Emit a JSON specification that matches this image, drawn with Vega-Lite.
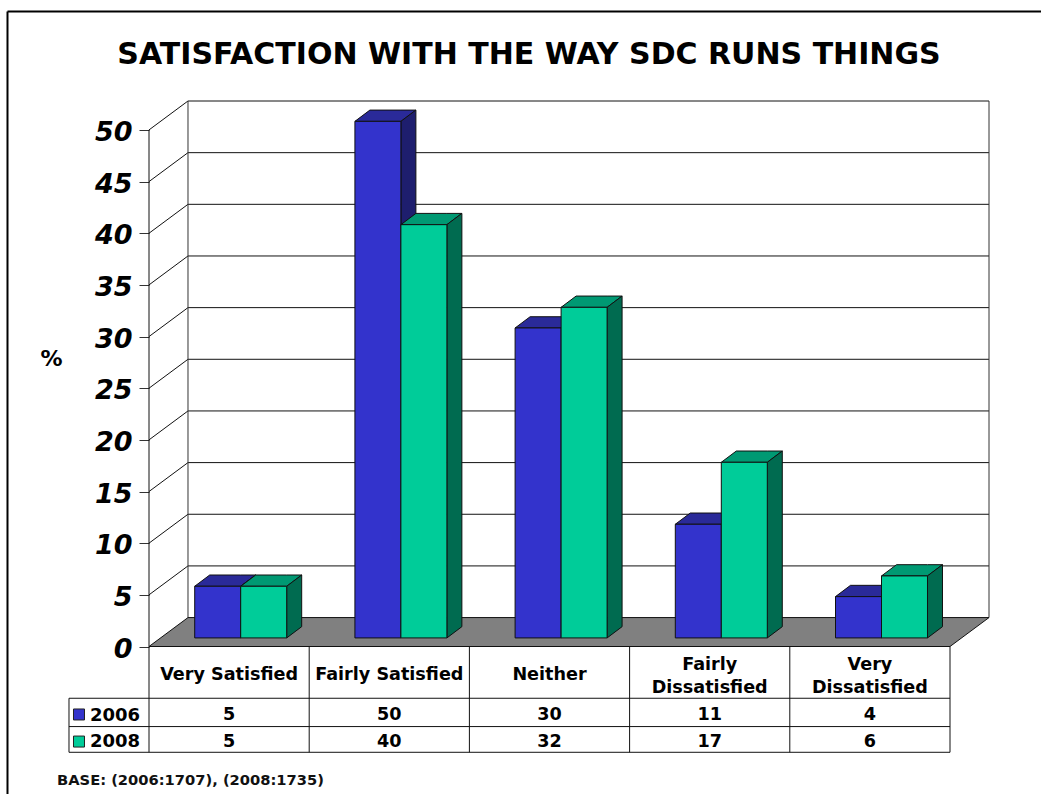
{
"$schema":"https://vega.github.io/schema/vega-lite/v6.json",
"autosize":"none","width":840,"height":545.5,
"padding":{"left":149,"top":101,"right":52,"bottom":147.5},
"background":"white",
"config":{"view":{"stroke":null},"text":{"font":"DejaVu Sans"}},
"title":{"text":"SATISFACTION WITH THE WAY SDC RUNS THINGS","font":"DejaVu Sans","fontWeight":"bold","fontSize":30,"color":"#000","anchor":"middle","dx":-40,"dy":94,"offset":34},
"datasets":{
"bars":[
{"cat":"Very Satisfied","series":"2006","value":5},
{"cat":"Fairly Satisfied","series":"2006","value":50},
{"cat":"Neither","series":"2006","value":30},
{"cat":"Fairly Dissatisfied","series":"2006","value":11},
{"cat":"Very Dissatisfied","series":"2006","value":4},
{"cat":"Very Satisfied","series":"2008","value":5},
{"cat":"Fairly Satisfied","series":"2008","value":40},
{"cat":"Neither","series":"2008","value":32},
{"cat":"Fairly Dissatisfied","series":"2008","value":17},
{"cat":"Very Dissatisfied","series":"2008","value":6}
],
"cats":[{"cat":"Very Satisfied","col":0},{"cat":"Fairly Satisfied","col":1},{"cat":"Neither","col":2},{"cat":"Fairly Dissatisfied","col":3},{"cat":"Very Dissatisfied","col":4}],
"levels":[{"level":5},{"level":10},{"level":15},{"level":20},{"level":25},{"level":30},{"level":35},{"level":40},{"level":45},{"level":50}],
"seriesRows":[{"series":"2006"},{"series":"2008"}],
"one":[{"note":"BASE: (2006:1707), (2008:1735)"}],
"cols":[{"col":1},{"col":2},{"col":3},{"col":4},{"col":5}]
},
"data":{"name":"bars"},
"transform":[
{"calculate":"indexof(['Very Satisfied','Fairly Satisfied','Neither','Fairly Dissatisfied','Very Dissatisfied'],datum.cat)","as":"xi"},
{"calculate":"datum.xi+0.2853+(datum.series=='2008'?0.2871:0)","as":"left"},
{"calculate":"datum.left+0.2871","as":"right"},
{"calculate":"datum.value+0.83","as":"top"}
],
"encoding":{
"x":{"field":"x0","type":"quantitative","scale":{"domain":[0,5.2434],"nice":false,"zero":false},"axis":null},
"y":{"field":"y0","type":"quantitative","scale":{"domain":[0,52.8],"nice":false,"zero":false},
"axis":{"title":"%","values":[0,5,10,15,20,25,30,35,40,45,50],"domain":false,"grid":false,"ticks":true,"tickSize":10,"tickColor":"#333","tickWidth":1,"labelFont":"DejaVu Sans","labelFontWeight":"bold","labelFontStyle":"italic","labelFontSize":27,"labelColor":"#000","labelPadding":7,"labelOffset":2.5,"labelOverlap":false,"labelFlush":false,"labelBaseline":"middle","titleFont":"DejaVu Sans","titleFontWeight":"bold","titleFontSize":22,"titleColor":"#000","titleAngle":0,"titleX":-98,"titleY":257,"titleAlign":"center","titleBaseline":"middle"}}
},
"layer":[
{"data":{"name":"levels"},"transform":[{"calculate":"0","as":"x0"},{"calculate":"0.2434","as":"x1"},{"calculate":"datum.level","as":"y0"},{"calculate":"datum.level+2.8","as":"y1"}],
"mark":{"type":"rule","stroke":"#111","strokeWidth":1},"encoding":{"x2":{"field":"x1"},"y2":{"field":"y1"}}},
{"data":{"name":"levels"},"transform":[{"calculate":"0.2434","as":"x0"},{"calculate":"5.2434","as":"x1"},{"calculate":"datum.level+2.8","as":"y0"}],
"mark":{"type":"rule","stroke":"#111","strokeWidth":1},"encoding":{"x2":{"field":"x1"}}},
{"data":{"name":"one"},"transform":[{"calculate":"0.2434","as":"x0"},{"calculate":"2.8","as":"y0"},{"calculate":"52.8","as":"y1"}],
"mark":{"type":"rule","stroke":"#333","strokeWidth":1},"encoding":{"y2":{"field":"y1"}}},
{"data":{"name":"one"},"transform":[{"calculate":"5.2434","as":"x0"},{"calculate":"2.8","as":"y0"},{"calculate":"52.8","as":"y1"}],
"mark":{"type":"rule","stroke":"#333","strokeWidth":1},"encoding":{"y2":{"field":"y1"}}},
{"data":{"name":"one"},"transform":[{"calculate":"[0,1,2,3]","as":"k"},{"flatten":["k"]},{"calculate":"[0,0.2434,5,5.2434][datum.k]","as":"x0"},{"calculate":"[0,2.8,2.8,2.8][datum.k]","as":"y0"},{"calculate":"[0,0,0,2.8][datum.k]","as":"y1"}],
"mark":{"type":"area","fill":"#808080","stroke":"#111","strokeWidth":1,"opacity":1},"encoding":{"y2":{"field":"y1"}}},
{"data":{"name":"one"},"transform":[{"calculate":"0","as":"x0"},{"calculate":"50","as":"y0"},{"calculate":"-10.24","as":"y1"}],
"mark":{"type":"rule","stroke":"#111","strokeWidth":1},"encoding":{"y2":{"field":"y1"}}},
{"data":{"name":"cols"},"transform":[{"calculate":"datum.col","as":"x0"},{"calculate":"0","as":"y0"},{"calculate":"-10.24","as":"y1"}],
"mark":{"type":"rule","stroke":"#111","strokeWidth":1},"encoding":{"y2":{"field":"y1"}}},
{"data":{"name":"one"},"transform":[{"calculate":"-0.4994","as":"x0"},{"calculate":"-5.01","as":"y0"},{"calculate":"-10.24","as":"y1"}],
"mark":{"type":"rule","stroke":"#111","strokeWidth":1},"encoding":{"y2":{"field":"y1"}}},
{"data":{"name":"one"},"transform":[{"calculate":"[-5.01,-7.75,-10.24]","as":"y0"},{"flatten":["y0"]},{"calculate":"-0.4994","as":"x0"},{"calculate":"5","as":"x1"}],
"mark":{"type":"rule","stroke":"#111","strokeWidth":1},"encoding":{"x2":{"field":"x1"}}},
{"data":{"name":"one"},"transform":[{"calculate":"-0.8833","as":"x0"},{"calculate":"61.47","as":"y0"},{"calculate":"-15","as":"y1"}],
"mark":{"type":"rule","stroke":"#000","strokeWidth":2},"encoding":{"y2":{"field":"y1"}}},
{"data":{"name":"one"},"transform":[{"calculate":"-0.8833","as":"x0"},{"calculate":"5.6","as":"x1"},{"calculate":"61.47","as":"y0"}],
"mark":{"type":"rule","stroke":"#000","strokeWidth":2},"encoding":{"x2":{"field":"x1"}}},

{"transform":[{"filter":"datum.series=='2006'"},{"calculate":"[0,1,2,3]","as":"k"},{"flatten":["k"]},{"calculate":"[datum.left,datum.left+0.0936,datum.right,datum.right+0.0936][datum.k]","as":"x0"},{"calculate":"datum.k==0?datum.top:datum.top+1.09","as":"y0"},{"calculate":"datum.k==3?datum.top+1.09:datum.top","as":"y1"}],
"mark":{"type":"area","fill":"#2A2A99","stroke":"#111","strokeWidth":1,"opacity":1},"encoding":{"y2":{"field":"y1"},"detail":{"field":"cat"}}},
{"transform":[{"filter":"datum.series=='2006'"},{"calculate":"[0,1]","as":"k"},{"flatten":["k"]},{"calculate":"datum.right+datum.k*0.0936","as":"x0"},{"calculate":"datum.top+datum.k*1.09","as":"y0"},{"calculate":"0.83+datum.k*1.09","as":"y1"}],
"mark":{"type":"area","fill":"#1E1E6E","stroke":"#111","strokeWidth":1,"opacity":1},"encoding":{"y2":{"field":"y1"},"detail":{"field":"cat"}}},
{"transform":[{"filter":"datum.series=='2006'"},{"calculate":"datum.left","as":"x0"},{"calculate":"datum.top","as":"y0"},{"calculate":"0.83","as":"y1"}],
"mark":{"type":"rect","fill":"#3333CC","stroke":"#111","strokeWidth":1},"encoding":{"x2":{"field":"right"},"y2":{"field":"y1"}}},

{"transform":[{"filter":"datum.series=='2008'"},{"calculate":"[0,1,2,3]","as":"k"},{"flatten":["k"]},{"calculate":"[datum.left,datum.left+0.0936,datum.right,datum.right+0.0936][datum.k]","as":"x0"},{"calculate":"datum.k==0?datum.top:datum.top+1.09","as":"y0"},{"calculate":"datum.k==3?datum.top+1.09:datum.top","as":"y1"}],
"mark":{"type":"area","fill":"#009973","stroke":"#111","strokeWidth":1,"opacity":1},"encoding":{"y2":{"field":"y1"},"detail":{"field":"cat"}}},
{"transform":[{"filter":"datum.series=='2008'"},{"calculate":"[0,1]","as":"k"},{"flatten":["k"]},{"calculate":"datum.right+datum.k*0.0936","as":"x0"},{"calculate":"datum.top+datum.k*1.09","as":"y0"},{"calculate":"0.83+datum.k*1.09","as":"y1"}],
"mark":{"type":"area","fill":"#006B50","stroke":"#111","strokeWidth":1,"opacity":1},"encoding":{"y2":{"field":"y1"},"detail":{"field":"cat"}}},
{"transform":[{"filter":"datum.series=='2008'"},{"calculate":"datum.left","as":"x0"},{"calculate":"datum.top","as":"y0"},{"calculate":"0.83","as":"y1"}],
"mark":{"type":"rect","fill":"#00CC99","stroke":"#111","strokeWidth":1},"encoding":{"x2":{"field":"right"},"y2":{"field":"y1"}}},

{"data":{"name":"cats"},"transform":[{"calculate":"datum.col+0.5","as":"x0"},{"calculate":"replace(datum.cat,' Dis','\\nDis')","as":"label"},{"calculate":"indexof(datum.label,'\\n')>=0?-1.8:-2.8","as":"y0"}],
"mark":{"type":"text","font":"DejaVu Sans","fontWeight":"bold","fontSize":17.6,"color":"#000","align":"center","baseline":"middle","lineBreak":"\n","lineHeight":23},"encoding":{"text":{"field":"label"}}},
{"transform":[{"calculate":"datum.xi+0.5","as":"x0"},{"calculate":"datum.series=='2006'?-6.6:-9.2","as":"y0"}],
"mark":{"type":"text","font":"DejaVu Sans","fontWeight":"bold","fontSize":17.6,"color":"#000","align":"center","baseline":"middle"},"encoding":{"text":{"field":"value","type":"quantitative"}}},
{"data":{"name":"seriesRows"},"transform":[{"calculate":"-0.368","as":"x0"},{"calculate":"datum.series=='2006'?-6.68:-9.25","as":"y0"}],
"mark":{"type":"text","font":"DejaVu Sans","fontWeight":"bold","fontSize":18,"color":"#000","align":"left","baseline":"middle"},"encoding":{"text":{"field":"series"}}},
{"data":{"name":"seriesRows"},"transform":[{"calculate":"-0.437","as":"x0"},{"calculate":"datum.series=='2006'?-6.58:-9.2","as":"y0"}],
"mark":{"type":"point","shape":"square","filled":true,"size":121,"stroke":"#222","strokeWidth":1,"opacity":1},"encoding":{"fill":{"field":"series","scale":{"domain":["2006","2008"],"range":["#3333CC","#00CC99"]},"legend":null}}},
{"data":{"name":"one"},"transform":[{"calculate":"-0.5743","as":"x0"},{"calculate":"-13.02","as":"y0"}],
"mark":{"type":"text","font":"DejaVu Sans","fontWeight":"bold","fontSize":14.7,"color":"#111","align":"left","baseline":"middle"},"encoding":{"text":{"field":"note"}}}
]
}
